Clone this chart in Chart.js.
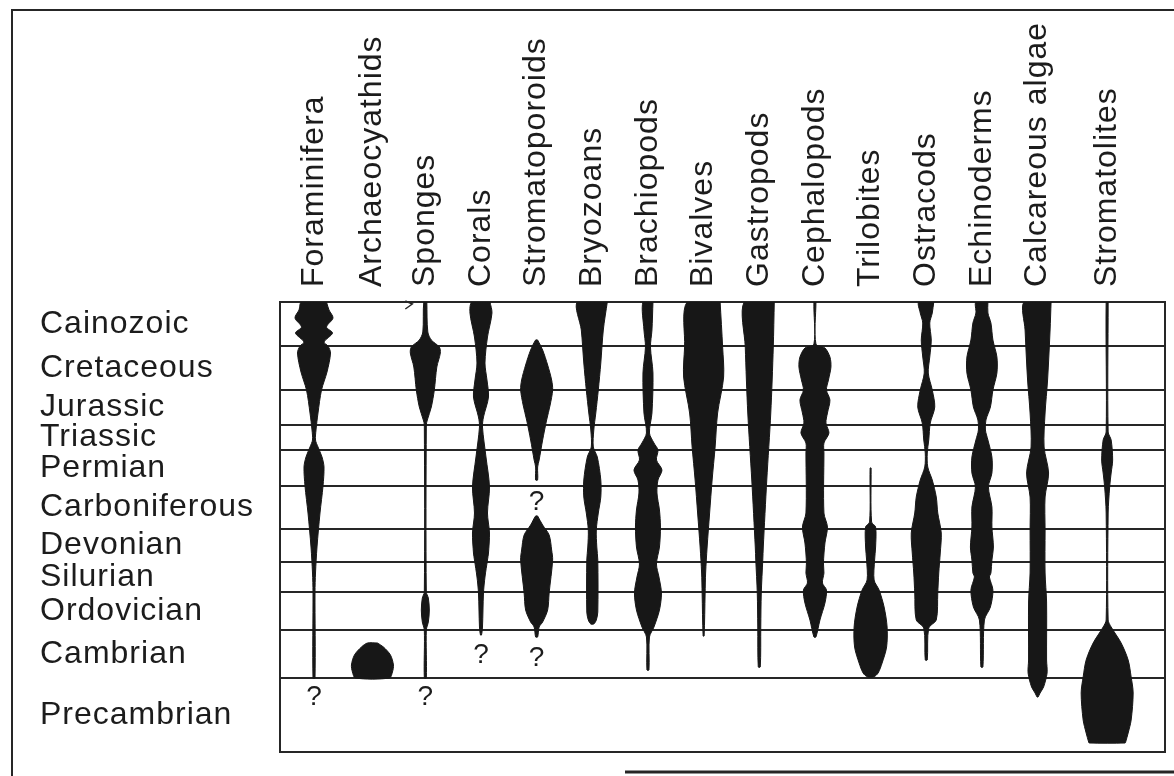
<!DOCTYPE html>
<html lang="en">
<head>
<meta charset="UTF-8">
<title>Fossil ranges</title>
<script src="https://cdn.jsdelivr.net/npm/chart.js@4.4.1/dist/chart.umd.min.js"></script>
<style>
  html, body { margin: 0; padding: 0; background: #fff; }
  canvas { display: block; }
</style>
</head>
<body>
<canvas id="chart" width="1174" height="776"></canvas>
<script>
const periods = ['Cainozoic', 'Cretaceous', 'Jurassic', 'Triassic', 'Permian', 'Carboniferous',
  'Devonian', 'Silurian', 'Ordovician', 'Cambrian', 'Precambrian'];
// period boundaries on the diagram's time axis (0 = present, top)
const periodBounds = [0, 44, 88, 123, 148, 184, 227, 260, 290, 328, 376, 450];

const taxa = ['Foraminifera', 'Archaeocyathids', 'Sponges', 'Corals', 'Stromatoporoids', 'Bryozoans',
  'Brachiopods', 'Bivalves', 'Gastropods', 'Cephalopods', 'Trilobites', 'Ostracods', 'Echinoderms',
  'Calcareous algae', 'Stromatolites'];

// spindle profiles: [time, width]; null = gap in the record
const foraminifera = [[0,25],[8,30],[16,38],[25,25],[31,37],[40,20],[44,28],[51,33],[70,26],[88,15],[111,8],[128,4],[138,3],[145,8],[155,16],[165,20],[184,18],[211,12],[245,6],[271,3],[290,2],[376,2]];
const archaeocyathids = [[341,10],[345,22],[353,36],[363,42],[370,40],[376,34]];
const sponges = [[0,3],[30,5],[38,12],[45,28],[51,30],[65,23],[88,18],[105,12],[118,4],[123,2],[290,2],[296,6],[308,8],[320,6],[328,2],[376,2]];
const corals = [[0,18],[11,22],[35,13],[61,8],[78,12],[95,15],[115,5],[125,3],[155,10],[185,17],[211,13],[231,17],[251,15],[258,13],[275,8],[291,5],[325,3],[333,1]];
const stromatoporoids = [[38,2],[48,12],[63,22],[78,30],[88,32],[103,27],[118,20],[138,12],[158,5],[165,2],[178,2], null,
  [214,2],[223,12],[233,25],[248,30],[258,32],[291,25],[308,22],[320,12],[325,5],[335,2]];
const bryozoans = [[0,30],[28,22],[61,17],[88,12],[111,7],[128,3],[145,2],[155,10],[178,17],[195,17],[211,12],[228,8],[245,9],[258,11],[310,11],[318,8],[322,3]];
const brachiopods = [[0,10],[28,8],[45,5],[71,10],[111,8],[131,3],[141,12],[148,20],[158,17],[168,28],[178,20],[191,18],[208,23],[225,25],[245,23],[262,17],[275,22],[291,27],[308,23],[325,12],[335,3],[368,2]];
const bivalves = [[0,33],[45,38],[75,40],[111,28],[145,23],[178,17],[211,12],[245,7],[271,4],[291,3],[334,1]];
const gastropods = [[0,30],[45,28],[111,23],[178,15],[245,8],[258,7],[291,4],[325,3],[365,2]];
const cephalopods = [[0,2],[42,2],[46,20],[55,30],[65,32],[78,27],[88,23],[98,30],[111,25],[121,22],[131,28],[141,18],[151,18],[211,18],[225,25],[241,20],[261,17],[271,18],[281,15],[288,23],[301,20],[318,10],[335,2]];
const trilobites = [[166,1],[220,2],[225,10],[245,10],[258,8],[278,7],[288,17],[305,27],[325,33],[345,32],[361,23],[371,15],[375,6]];
const ostracods = [[0,15],[11,12],[21,7],[38,10],[55,7],[71,4],[88,12],[105,17],[121,8],[138,5],[151,2],[165,3],[178,12],[195,20],[211,23],[231,30],[251,28],[271,25],[291,23],[318,20],[326,5],[358,2]];
const echinoderms = [[0,12],[11,12],[21,18],[38,22],[55,30],[71,30],[88,22],[105,17],[118,8],[128,7],[138,12],[155,20],[171,20],[185,13],[205,20],[225,20],[245,23],[258,20],[271,18],[275,15],[288,22],[305,17],[318,5],[365,2]];
const calcareousAlgae = [[0,27],[28,25],[78,20],[111,15],[145,13],[171,22],[195,15],[228,15],[271,15],[300,18],[358,18],[371,19],[385,12],[391,5],[395,1]];
const stromatolites = [[0,2],[130,2],[138,8],[158,11],[171,8],[185,5],[211,2],[318,2],[325,8],[341,28],[358,42],[375,48],[391,52],[418,48],[431,42],[440,37],[441,36]];

const profiles = [foraminifera, archaeocyathids, sponges, corals, stromatoporoids, bryozoans,
  brachiopods, bivalves, gastropods, cephalopods, trilobites, ostracods, echinoderms,
  calcareousAlgae, stromatolites];

// black dots [taxon index, time]
const dots = [[4, 86], [7, 59], [10, 343], [11, 270], [12, 303]];
// question marks [taxon index, time]
const queries = [[0, 395], [2, 395], [3, 353], [4, 200], [4, 356]];

// layout
const SLOT = 55.66;
const colSlot = [0, 1.05, 2, 3, 4, 5, 6, 7, 8, 9, 10, 11, 12, 13, 14.25];
const INK = '#171717';
const LINE = '#262626';
const FONT = '"Liberation Sans", Arial, sans-serif';
const colX = i => colSlot[i] * SLOT;

function segments(profile) {
  const out = [[]];
  profile.forEach(p => p ? out[out.length - 1].push(p) : out.push([]));
  return out.filter(s => s.length);
}

const datasets = [];
profiles.forEach((prof, i) => {
  const cx = colX(i);
  segments(prof).forEach(seg => {
    const right = seg.map(([t, w]) => ({ x: cx + w / 2, y: t }));
    const left = seg.slice().reverse().map(([t, w]) => ({ x: cx - w / 2, y: t }));
    datasets.push({
      type: 'line',
      label: taxa[i],
      data: right.concat(left, [right[0]]),
      fill: 'shape',
      backgroundColor: INK,
      borderColor: INK,
      borderWidth: 1,
      pointRadius: 0,
      tension: 0.3
    });
  });
});
datasets.push({
  type: 'scatter',
  label: 'dots',
  data: dots.map(([i, t]) => ({ x: colX(i), y: t })),
  backgroundColor: '#000',
  borderWidth: 0,
  pointRadius: 6
});

const labelsPlugin = {
  id: 'labels',
  afterDraw(chart) {
    const { ctx, chartArea } = chart;
    const xs = chart.scales.x, ys = chart.scales.y;
    ctx.save();
    ctx.fillStyle = '#1c1c1c';
    ctx.font = '32px ' + FONT;
    ctx.letterSpacing = '1px';
    ctx.textBaseline = 'middle';
    ctx.textAlign = 'left';
    periods.forEach((p, i) => {
      const y = ys.getPixelForValue((periodBounds[i] + periodBounds[i + 1]) / 2);
      ctx.fillText(p, 40, y);
    });
    taxa.forEach((t, i) => {
      ctx.save();
      ctx.translate(xs.getPixelForValue(colX(i)), chartArea.top - 15);
      ctx.rotate(-Math.PI / 2);
      ctx.fillText(t, 0, 0);
      ctx.restore();
    });
    ctx.letterSpacing = '0px';
    ctx.font = '28px ' + FONT;
    ctx.textAlign = 'center';
    queries.forEach(([i, t]) => {
      ctx.fillText('?', xs.getPixelForValue(colX(i)), ys.getPixelForValue(t));
    });
    // small arrow at top of sponges
    const sx = xs.getPixelForValue(colX(2));
    ctx.strokeStyle = LINE;
    ctx.lineWidth = 1.5;
    ctx.beginPath();
    ctx.moveTo(sx - 20, chartArea.top + 7);
    ctx.lineTo(sx - 13, chartArea.top + 2);
    ctx.lineTo(sx - 20, chartArea.top - 1);
    ctx.stroke();
    // outer frame
    ctx.lineWidth = 2;
    ctx.beginPath();
    ctx.moveTo(12, 776);
    ctx.lineTo(12, 10);
    ctx.lineTo(1174, 10);
    ctx.stroke();
    ctx.lineWidth = 3;
    ctx.beginPath();
    ctx.moveTo(625, 772);
    ctx.lineTo(1174, 772);
    ctx.stroke();
    ctx.restore();
  }
};

new Chart(document.getElementById('chart'), {
  type: 'line',
  data: { datasets },
  options: {
    responsive: false,
    animation: false,
    devicePixelRatio: 1,
    layout: { padding: { left: 280, top: 302, right: 9, bottom: 24 } },
    plugins: { legend: { display: false }, tooltip: { enabled: false } },
    scales: {
      x: { type: 'linear', min: -34, max: 851, display: false },
      y: {
        type: 'linear', reverse: true, min: 0, max: 450,
        afterBuildTicks: s => { s.ticks = periodBounds.map(v => ({ value: v })); },
        ticks: { display: false },
        grid: { color: LINE, lineWidth: 2, drawTicks: false },
        border: { display: true, color: LINE, width: 2 }
      },
      yRight: {
        type: 'linear', position: 'right', min: 0, max: 1,
        ticks: { display: false },
        grid: { display: false, drawTicks: false },
        border: { display: true, color: LINE, width: 2 }
      }
    }
  },
  plugins: [labelsPlugin]
});
</script>
</body>
</html>
